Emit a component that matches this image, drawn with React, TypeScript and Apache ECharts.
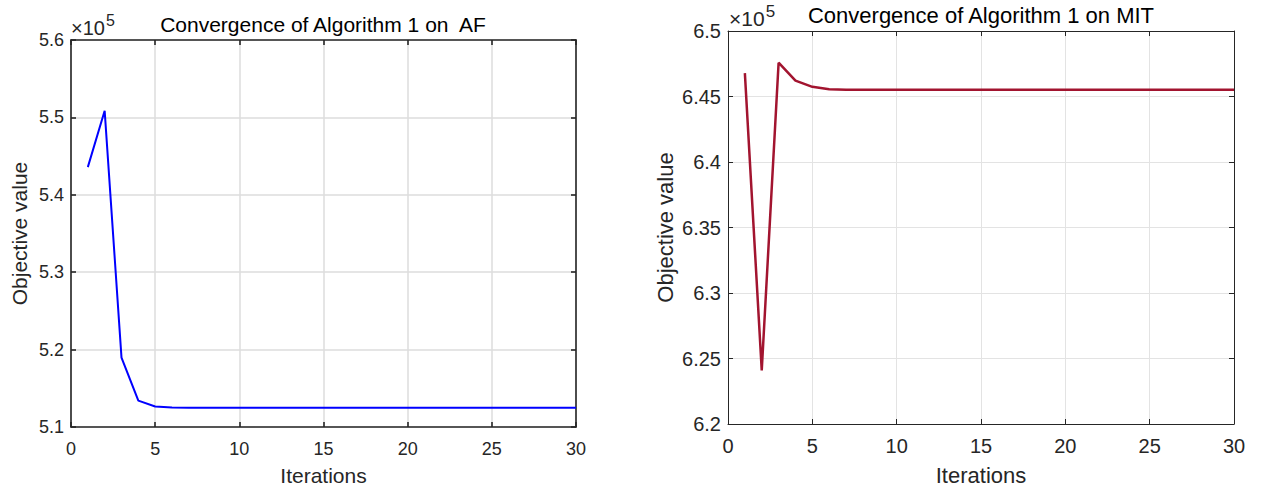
import React, { useEffect, useRef } from "react";
import * as echarts from "echarts";

const iterations = [1, 2, 3, 4, 5, 6, 7, 8, 9, 10, 11, 12, 13, 14, 15, 16, 17, 18, 19, 20, 21, 22, 23, 24, 25, 26, 27, 28, 29, 30];

// Objective values in units of 1e5
const afValues = [5.4358, 5.5085, 5.1897, 5.1341, 5.1264, 5.1252, 5.1249, 5.1248, 5.1248, 5.1248,
  5.1248, 5.1248, 5.1248, 5.1248, 5.1248, 5.1248, 5.1248, 5.1248, 5.1248, 5.1248,
  5.1248, 5.1248, 5.1248, 5.1248, 5.1248, 5.1248, 5.1248, 5.1248, 5.1248, 5.1248];

const mitValues = [6.4678, 6.2409, 6.4758, 6.4621, 6.4574, 6.4556, 6.4552, 6.4551, 6.4551, 6.4551,
  6.4551, 6.4551, 6.4551, 6.4551, 6.4551, 6.4551, 6.4551, 6.4551, 6.4551, 6.4551,
  6.4551, 6.4551, 6.4551, 6.4551, 6.4551, 6.4551, 6.4551, 6.4551, 6.4551, 6.4551];

const titles = ["Convergence of Algorithm 1 on  AF", "Convergence of Algorithm 1 on MIT"];
const xName = "Iterations";
const yName = "Objective value";
const exponentBase = "×10";
const exponentPower = "5";

const FONT = "'Liberation Sans', Arial, Helvetica, sans-serif";
const AX = "#262626";

function fmt(v: number) {
  return String(parseFloat(v.toFixed(2)));
}

export default function App() {
  const ref = useRef<HTMLDivElement>(null);
  useEffect(() => {
    if (!ref.current) return;
    const chart = echarts.init(ref.current, undefined, { renderer: "svg" });

    const grids = [
      { left: 71, top: 40, width: 505, height: 390 },
      { left: 728, top: 31, width: 506, height: 395 },
    ];
    const cfg = [
      { fs: 18, lw: 1.6, grid: "#dddddd", gw: 1.5, ymin: 5.1, ymax: 5.6, yint: 0.1, color: "#0000ff", sw: 2, data: afValues, nameFs: 21, xGap: 38, yGap: 41, lm: 13 },
      { fs: 20, lw: 1, grid: "#e3e3e3", gw: 1, ymin: 6.2, ymax: 6.5, yint: 0.05, color: "#a2142f", sw: 2.5, data: mitValues, nameFs: 22, xGap: 40, yGap: 52, lm: 12 },
    ];

    const xAxis: any[] = [];
    const yAxis: any[] = [];
    const series: any[] = [];
    cfg.forEach((c, i) => {
      const line = { show: true, lineStyle: { color: AX, width: c.lw } };
      const tick = { show: true, inside: true, length: 5, lineStyle: { color: AX, width: c.lw } };
      xAxis.push({
        type: "value", gridIndex: i, min: 0, max: 30, interval: 5, position: "bottom",
        name: xName, nameLocation: "middle", nameGap: c.xGap,
        nameTextStyle: { fontFamily: FONT, fontSize: c.nameFs, color: AX },
        axisLine: { ...line, onZero: false }, axisTick: tick,
        axisLabel: { fontFamily: FONT, fontSize: c.fs, color: AX, margin: c.lm },
        splitLine: { show: true, lineStyle: { color: c.grid, width: c.gw } },
      });
      xAxis.push({
        type: "value", gridIndex: i, min: 0, max: 30, interval: 5, position: "top",
        axisLine: { ...line, onZero: false }, axisTick: tick,
        axisLabel: { show: false }, splitLine: { show: false },
      });
      yAxis.push({
        type: "value", gridIndex: i, min: c.ymin, max: c.ymax, interval: c.yint, position: "left",
        name: yName, nameLocation: "middle", nameGap: c.yGap,
        nameTextStyle: { fontFamily: FONT, fontSize: c.nameFs, color: AX },
        axisLine: { ...line, onZero: false }, axisTick: tick,
        axisLabel: { fontFamily: FONT, fontSize: c.fs, color: AX, margin: 7, formatter: fmt },
        splitLine: { show: true, lineStyle: { color: c.grid, width: c.gw } },
      });
      yAxis.push({
        type: "value", gridIndex: i, min: c.ymin, max: c.ymax, interval: c.yint, position: "right",
        axisLine: { ...line, onZero: false }, axisTick: tick,
        axisLabel: { show: false }, splitLine: { show: false },
      });
      series.push({
        type: "line", xAxisIndex: i * 2, yAxisIndex: i * 2, showSymbol: false, symbol: "none",
        lineStyle: { color: c.color, width: c.sw }, itemStyle: { color: c.color },
        data: iterations.map((x, k) => [x, c.data[k]]),
      });
    });

    const expo = (x: number, yBase: number, ySup: number, fs: number) => ({
      type: "group",
      children: [
        { type: "text", x, y: yBase, style: { text: exponentBase, fontFamily: FONT, fontSize: fs, fill: AX, verticalAlign: "middle", align: "left" } },
        { type: "text", x: x + fs * 1.7 + 1, y: ySup, style: { text: exponentPower, fontFamily: FONT, fontSize: Math.round(fs * 0.8), fill: AX, verticalAlign: "middle", align: "left" } },
      ],
    });

    chart.setOption({
      animation: false,
      backgroundColor: "#ffffff",
      title: [
        { text: titles[0], left: 323, top: 14, textAlign: "center", padding: 0, textStyle: { fontFamily: FONT, fontSize: 21, fontWeight: "normal", color: "#000" } },
        { text: titles[1], left: 981, top: 4, textAlign: "center", padding: 0, textStyle: { fontFamily: FONT, fontSize: 22, fontWeight: "normal", color: "#000" } },
      ],
      grid: grids,
      xAxis,
      yAxis,
      series,
      graphic: [expo(71, 28, 20.5, 20), expo(729, 18.5, 11.5, 21)],
    });
    return () => chart.dispose();
  }, []);
  return <div ref={ref} style={{ position: "absolute", left: 0, top: 0, width: 1262, height: 491 }} />;
}
